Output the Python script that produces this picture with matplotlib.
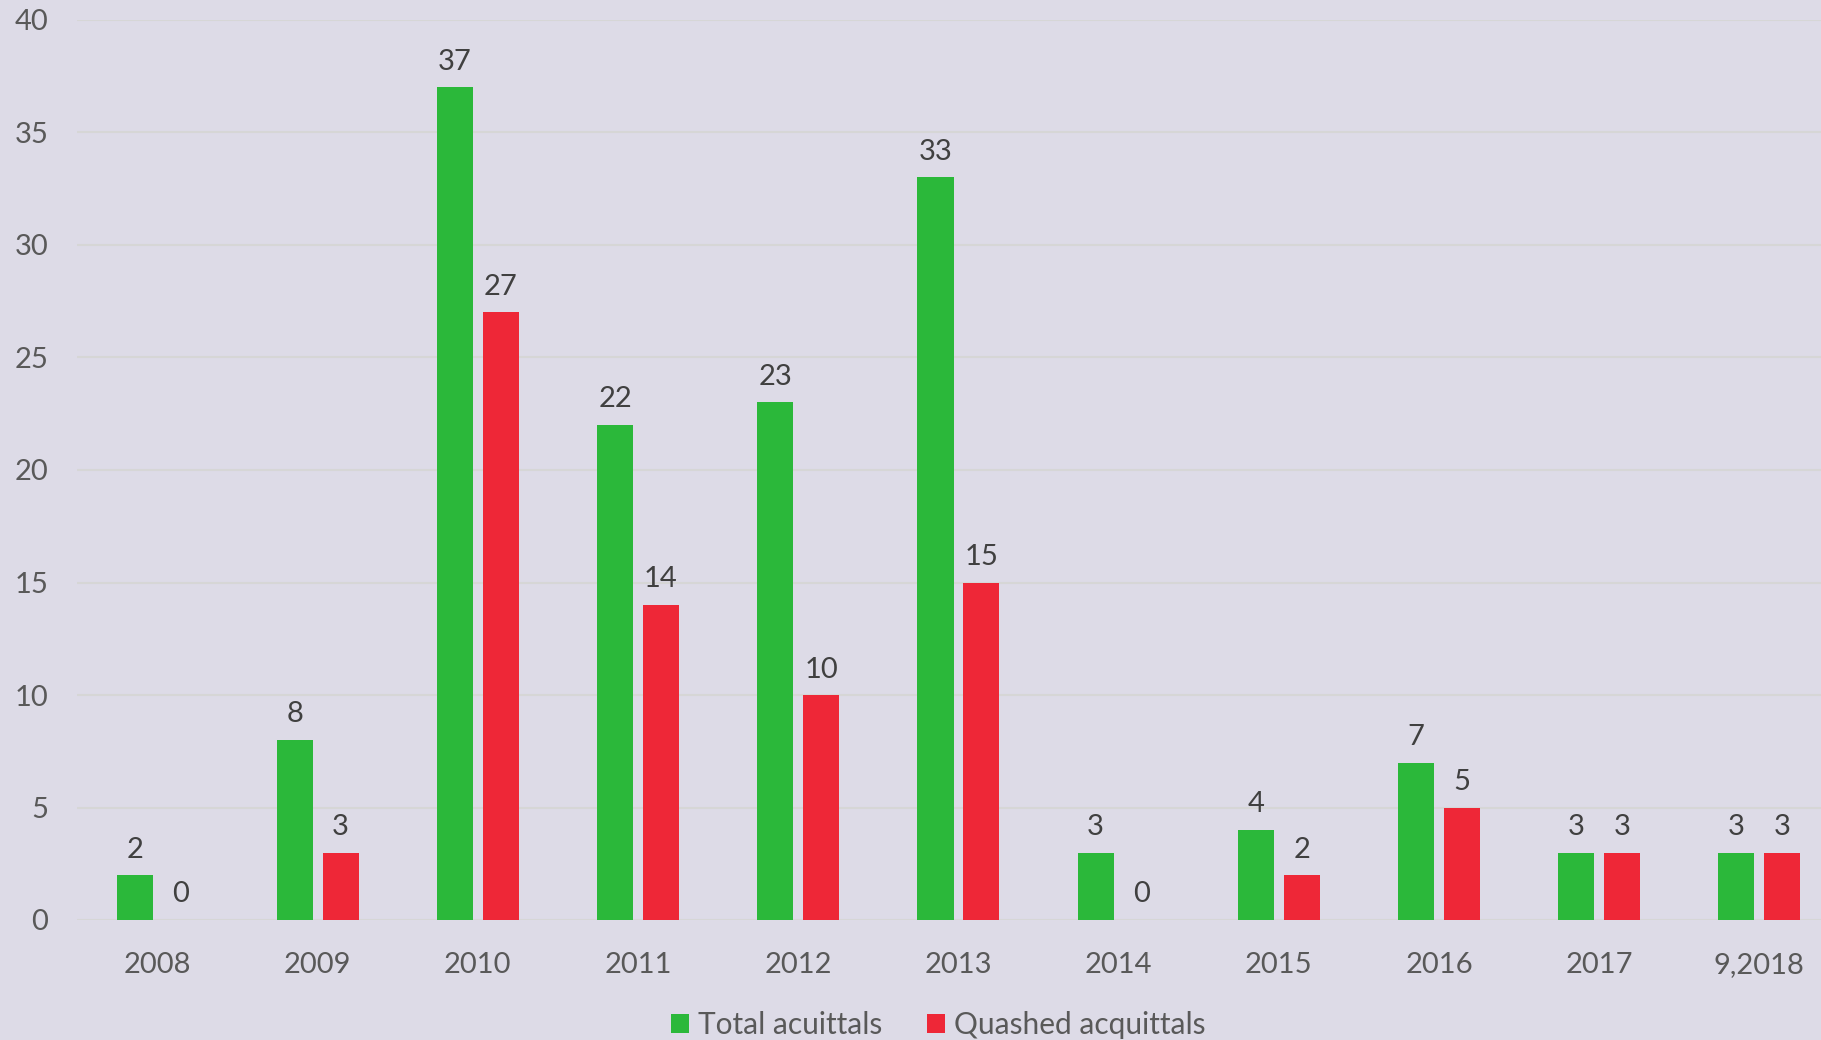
import matplotlib.pyplot as plt
import numpy as np

years = ["2008", "2009", "2010", "2011", "2012", "2013", "2014", "2015", "2016", "2017", "9,2018"]
total_acquittals = [2, 8, 37, 22, 23, 33, 3, 4, 7, 3, 3]
quashed_acquittals = [0, 3, 27, 14, 10, 15, 0, 2, 5, 3, 3]

GREEN = "#2bb83a"
RED = "#ee2737"
TEXT = "#595959"
BG = "#dddbe7"

plt.rcParams['font.family'] = ['Lato', 'DejaVu Sans']

fig = plt.figure(figsize=(18.21, 10.40), dpi=100, facecolor=BG)
# plot area runs past the right edge, like the original
ax = fig.add_axes([77.4 / 1821, 1 - 920 / 1040, 1762 / 1821, 900 / 1040])
ax.set_facecolor(BG)

x = np.arange(len(years))
w = 0.225
off = 0.143
b1 = ax.bar(x - off, total_acquittals, w, color=GREEN, label="Total acuittals", zorder=3)
b2 = ax.bar(x + off, quashed_acquittals, w, color=RED, label="Quashed acquittals", zorder=3)

for bars in (b1, b2):
    for rect in bars:
        h = rect.get_height()
        ax.annotate(f"{int(h)}", (rect.get_x() + rect.get_width() / 2, h),
                    xytext=(0, 9), textcoords="offset points",
                    ha="center", va="bottom", fontsize=21, color="#404040")

ax.set_xlim(-0.5, len(years) - 0.5)
ax.set_ylim(0, 40)
ax.set_yticks(range(0, 41, 5))
ax.yaxis.grid(True, color="#d6d6d6", linewidth=1.5, zorder=0)
ax.set_axisbelow(True)
ax.set_xticks(x)
ax.set_xticklabels(years)
ax.tick_params(axis="both", length=0, labelsize=21, colors=TEXT)
ax.tick_params(axis="x", pad=23)
ax.tick_params(axis="y", pad=21)
for s in ax.spines.values():
    s.set_visible(False)

fig.legend(loc="center", bbox_to_anchor=(938 / 1821, 1 - 1025 / 1040), ncol=2,
           frameon=False, fontsize=21.5, labelcolor=TEXT, handlelength=0.6,
           handleheight=0.6, handletextpad=0.3, columnspacing=1.5)

fig.savefig("out.png", dpi=100, facecolor=BG)
